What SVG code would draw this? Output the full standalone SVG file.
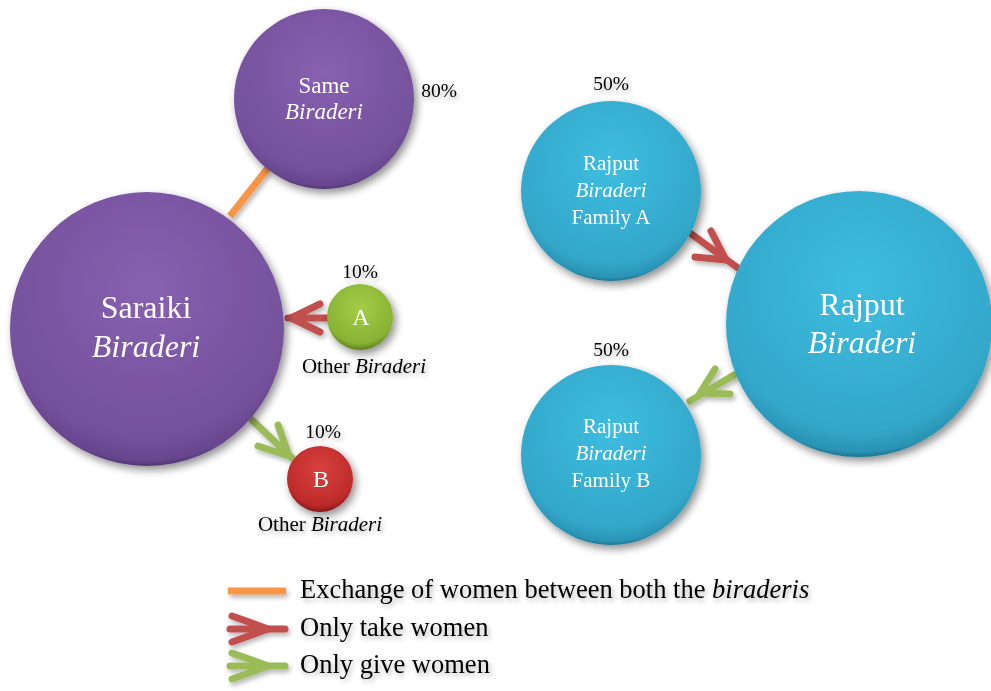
<svg xmlns="http://www.w3.org/2000/svg" width="991" height="691" viewBox="0 0 991 691">
<defs>
<radialGradient id="gPurple" cx="0.5" cy="0.35" r="0.65">
<stop offset="0" stop-color="#8860b0"/><stop offset="0.85" stop-color="#74519c"/><stop offset="0.97" stop-color="#66458d"/><stop offset="1" stop-color="#4e356e"/>
</radialGradient>
<radialGradient id="gCyan" cx="0.5" cy="0.35" r="0.65">
<stop offset="0" stop-color="#3dbde0"/><stop offset="0.85" stop-color="#33a7c9"/><stop offset="0.97" stop-color="#2a93b4"/><stop offset="1" stop-color="#1f7390"/>
</radialGradient>
<radialGradient id="gGreen" cx="0.5" cy="0.35" r="0.65">
<stop offset="0" stop-color="#a4cc48"/><stop offset="0.85" stop-color="#88b233"/><stop offset="1" stop-color="#5e7e20"/>
</radialGradient>
<radialGradient id="gRed" cx="0.5" cy="0.35" r="0.65">
<stop offset="0" stop-color="#d8403e"/><stop offset="0.85" stop-color="#bd2b2a"/><stop offset="1" stop-color="#851818"/>
</radialGradient>
<filter id="sh" x="-20%" y="-20%" width="150%" height="150%">
<feGaussianBlur in="SourceAlpha" stdDeviation="4"/><feOffset dx="3" dy="4"/>
<feComponentTransfer><feFuncA type="linear" slope="0.45"/></feComponentTransfer>
<feMerge><feMergeNode/><feMergeNode in="SourceGraphic"/></feMerge>
</filter>
<filter id="tsh" x="-20%" y="-50%" width="150%" height="220%">
<feGaussianBlur in="SourceAlpha" stdDeviation="2.5"/><feOffset dx="2" dy="3"/>
<feComponentTransfer><feFuncA type="linear" slope="0.3"/></feComponentTransfer>
<feMerge><feMergeNode/><feMergeNode in="SourceGraphic"/></feMerge>
</filter>
</defs>
<style>
.t{font-family:"Liberation Serif","Times New Roman",serif;text-anchor:middle;}
.l{font-family:"Liberation Serif","Times New Roman",serif;font-size:26.5px;fill:#000000;}
.w{fill:#ffffff;}
.k{fill:#000000;}
.i{font-style:italic;}
.ln{fill:none;stroke-width:7;stroke-linecap:round;stroke-linejoin:round;}
.or{stroke:#f79646;stroke-linecap:butt;}
.rd{stroke:#c0504d;}
.gr{stroke:#9bbb59;}
</style>
<rect width="991" height="691" fill="#ffffff"/>

<g id="connectors" filter="url(#tsh)">
<line class="ln or" x1="230" y1="216" x2="268" y2="168"/>
<g class="ln rd"><line x1="288" y1="318" x2="327" y2="318"/><polyline points="320,304 291,318 320,332"/></g>
<g class="ln gr"><line x1="252" y1="420" x2="292" y2="458"/><polyline points="278,425 289,456 258,446"/></g>
<g class="ln rd"><line x1="690" y1="233" x2="738" y2="268"/><polyline points="711,231 726,260 695,257"/></g>
<g class="ln gr"><line x1="734" y1="375" x2="690" y2="401"/><polyline points="715,369 700,393 730,394"/></g>
</g>

<g id="same" filter="url(#sh)">
<circle cx="324" cy="99" r="90" fill="url(#gPurple)"/>
<text class="t w" x="324" y="93" font-size="23">Same</text>
<text class="t w i" x="324" y="119" font-size="23">Biraderi</text>
</g>
<text class="t k" x="439" y="97" font-size="19.5" filter="url(#tsh)">80%</text>

<g id="saraiki" filter="url(#sh)">
<circle cx="147" cy="329" r="137" fill="url(#gPurple)"/>
<text class="t w" x="146" y="318" font-size="32">Saraiki</text>
<text class="t w i" x="146" y="357" font-size="32">Biraderi</text>
</g>

<g id="nodeA" filter="url(#sh)">
<circle cx="360" cy="317" r="33" fill="url(#gGreen)"/>
<text class="t w" x="361" y="325" font-size="24">A</text>
</g>
<text class="t k" x="360" y="278" font-size="19.5" filter="url(#tsh)">10%</text>
<text class="t k" x="364" y="373" font-size="21" filter="url(#tsh)">Other <tspan class="i">Biraderi</tspan></text>

<g id="nodeB" filter="url(#sh)">
<circle cx="320" cy="479" r="33" fill="url(#gRed)"/>
<text class="t w" x="321" y="487" font-size="24">B</text>
</g>
<text class="t k" x="323" y="438" font-size="19.5" filter="url(#tsh)">10%</text>
<text class="t k" x="320" y="531" font-size="21" filter="url(#tsh)">Other <tspan class="i">Biraderi</tspan></text>

<g id="familyA" filter="url(#sh)">
<circle cx="611" cy="191" r="90" fill="url(#gCyan)"/>
<text class="t w" x="611" y="170" font-size="21">Rajput</text>
<text class="t w i" x="611" y="197" font-size="21">Biraderi</text>
<text class="t w" x="611" y="224" font-size="21">Family A</text>
</g>
<text class="t k" x="611" y="90" font-size="19.5" filter="url(#tsh)">50%</text>

<g id="familyB" filter="url(#sh)">
<circle cx="611" cy="455" r="90" fill="url(#gCyan)"/>
<text class="t w" x="611" y="433" font-size="21">Rajput</text>
<text class="t w i" x="611" y="460" font-size="21">Biraderi</text>
<text class="t w" x="611" y="487" font-size="21">Family B</text>
</g>
<text class="t k" x="611" y="356" font-size="19.5" filter="url(#tsh)">50%</text>

<g id="rajput" filter="url(#sh)">
<circle cx="859" cy="324" r="133" fill="url(#gCyan)"/>
<text class="t w" x="862" y="315" font-size="32">Rajput</text>
<text class="t w i" x="862" y="353" font-size="32">Biraderi</text>
</g>

<g id="legend">
<g filter="url(#tsh)">
<line class="ln or" x1="228" y1="591" x2="286" y2="591"/>
<g class="ln rd"><line x1="230" y1="629" x2="285" y2="629"/><polyline points="232,616 268,629 232,642"/></g>
<g class="ln gr"><line x1="230" y1="666" x2="285" y2="666"/><polyline points="232,653 268,666 232,679"/></g>
</g>
<g filter="url(#tsh)">
<text class="l" x="300" y="598">Exchange of women between both the <tspan class="i">biraderis</tspan></text>
<text class="l" x="300" y="636">Only take women</text>
<text class="l" x="300" y="673">Only give women</text>
</g>
</g>
</svg>
